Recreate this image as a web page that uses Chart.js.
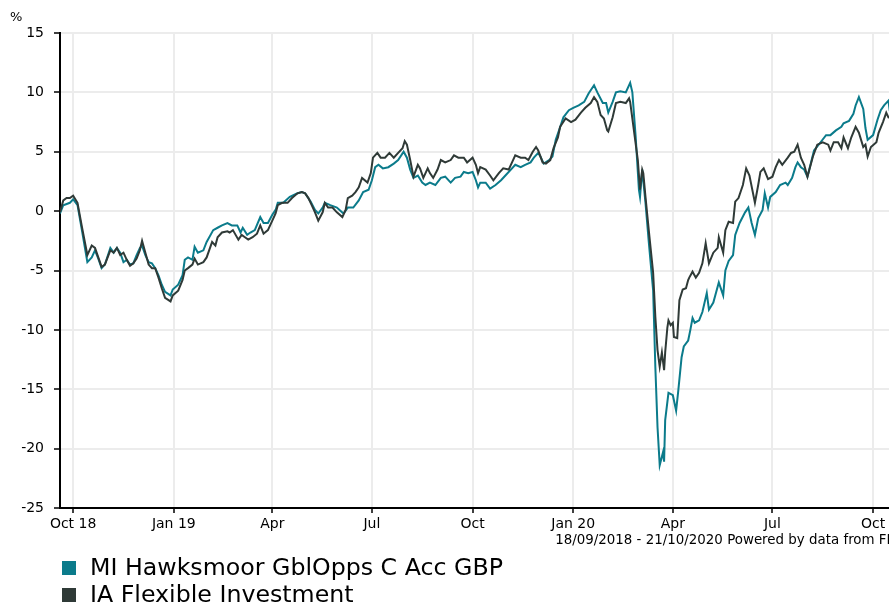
<!DOCTYPE html>
<html>
<head>
<meta charset="utf-8">
<script src="https://cdn.jsdelivr.net/npm/chart.js@4.4.0/dist/chart.umd.min.js"></script>
<style>
  html, body { margin: 0; padding: 0; background: #fff; overflow: hidden; }
  #wrap { width: 889px; height: 604px; overflow: hidden; }
</style>
</head>
<body>
<div id="wrap"><canvas id="perfChart" width="900" height="604"></canvas></div>
<script>
// days counted from 18/09/2018, values are cumulative % change
var tickDays = [13, 105, 195, 286, 378, 470, 561, 652, 744];
var tickLabels = ['Oct 18', 'Jan 19', 'Apr', 'Jul', 'Oct', 'Jan 20', 'Apr', 'Jul', 'Oct'];
var footerText = '18/09/2018 - 21/10/2020 Powered by data from FE';

var hawksmoorDays = [1, 4, 10, 13, 17, 21, 26, 30, 33, 36, 39, 42, 47, 50, 53, 56, 59, 62, 65, 68, 71, 74, 76, 79, 82, 85, 88, 91, 94, 97,
  102, 104, 109, 113, 115, 118, 122, 124, 127, 132, 135, 141, 145, 149, 154, 158, 163, 166, 168, 172, 175, 179, 184, 187, 191, 195, 198, 200, 205, 211,
  218, 222, 225, 230, 234, 237, 241, 243, 248, 254, 260, 264, 269, 274, 278, 283, 286, 289, 292, 296, 301, 306, 310, 315, 318, 321, 324, 328, 332, 335,
  339, 344, 349, 353, 358, 362, 367, 370, 374, 378, 381, 383, 385, 390, 394, 399, 404, 408, 413, 417, 422, 426, 431, 434, 438, 440, 443, 448, 451, 454,
  457, 461, 466, 470, 475, 480, 484, 489, 492, 497, 500, 502, 506, 509, 513, 518, 522, 524, 527, 530, 531, 533, 536, 539, 543, 545, 547, 549, 552, 553,
  554, 557, 561, 564, 566, 569, 571, 575, 577, 579, 581, 585, 588, 592, 594, 598, 603, 607, 609, 612, 616, 618, 622, 627, 630, 633, 636, 639, 643, 645,
  648, 650, 655, 659, 664, 666, 670, 673, 675, 678, 681, 684, 690, 696, 701, 705, 710, 715, 717, 722, 726, 728, 731, 735, 737, 739, 744, 748, 751, 754,
  758, 759, 762, 764];
var hawksmoorPct = [-0.2, 0.5, 0.7, 1.0, 0.5, -1.6, -4.3, -3.9, -3.3, -4.0, -4.8, -4.5, -3.1, -3.5, -3.1, -3.5, -4.3, -4.1, -4.5, -4.4, -3.7, -3.1, -2.9, -3.7, -4.3, -4.4, -4.8, -5.4, -6.2, -6.8,
  -7.1, -6.6, -6.2, -5.4, -4.1, -3.9, -4.1, -3.0, -3.5, -3.3, -2.6, -1.6, -1.4, -1.2, -1.0, -1.2, -1.2, -1.8, -1.4, -2.0, -1.8, -1.6, -0.5, -1.0, -1.0, -0.3, 0.1, 0.7, 0.7, 1.2,
  1.5, 1.6, 1.5, 0.8, 0.1, -0.2, 0.3, 0.7, 0.5, 0.3, -0.2, 0.3, 0.3, 0.9, 1.6, 1.8, 2.6, 3.7, 3.9, 3.6, 3.7, 4.0, 4.3, 5.0, 4.5, 3.5, 2.8, 3.0, 2.4, 2.2,
  2.4, 2.2, 2.8, 2.9, 2.4, 2.8, 2.9, 3.3, 3.2, 3.3, 2.6, 2.0, 2.4, 2.4, 1.9, 2.2, 2.6, 3.0, 3.5, 3.9, 3.7, 3.9, 4.1, 4.5, 4.9, 4.6, 4.0, 4.3, 4.6, 6.0,
  6.8, 7.9, 8.5, 8.7, 8.9, 9.2, 9.9, 10.6, 10.0, 9.1, 9.1, 8.3, 9.2, 10.0, 10.1, 10.0, 10.8, 10.0, 6.3, 1.8, 1.2, 3.5, 0.7, -2.6, -6.7, -13.1, -18.2, -21.4, -20.3, -21.1,
  -17.6, -15.3, -15.5, -16.8, -15.1, -12.3, -11.4, -10.9, -10.0, -9.0, -9.4, -9.2, -8.5, -6.9, -8.3, -7.7, -6.0, -7.1, -5.0, -4.2, -3.7, -2.0, -1.0, -0.1, 0.3, -1.0, -2.0, -0.6, 0.1, 1.5,
  0.3, 1.2, 1.6, 2.2, 2.4, 2.2, 2.8, 3.7, 4.1, 3.7, 3.5, 2.9, 5.1, 5.8, 6.4, 6.4, 6.8, 7.1, 7.4, 7.6, 8.2, 8.9, 9.6, 8.6, 7.0, 6.0, 6.4, 7.7, 8.5, 8.9,
  9.3, 8.6, 8.9, 8.9];

var flexibleDays = [1, 4, 7, 10, 13, 17, 21, 26, 30, 33, 36, 39, 42, 47, 50, 53, 56, 59, 62, 65, 68, 71, 74, 76, 79, 82, 85, 88, 91, 94,
  97, 102, 104, 109, 113, 115, 118, 122, 124, 127, 132, 135, 140, 143, 145, 149, 154, 156, 159, 164, 167, 170, 173, 177, 181, 184, 187, 191, 195, 198,
  200, 204, 209, 213, 218, 222, 225, 228, 231, 234, 237, 241, 243, 246, 250, 254, 259, 262, 264, 268, 271, 274, 277, 282, 285, 287, 291, 294, 298, 302,
  306, 310, 314, 316, 318, 321, 324, 328, 330, 333, 337, 339, 342, 346, 349, 353, 358, 361, 365, 370, 373, 378, 381, 383, 385, 390, 394, 397, 402, 406,
  411, 415, 417, 422, 426, 429, 433, 436, 438, 442, 445, 449, 452, 456, 458, 463, 468, 472, 477, 481, 486, 489, 492, 495, 498, 501, 502, 506, 509, 513,
  518, 521, 522, 525, 529, 531, 533, 534, 536, 539, 543, 545, 547, 549, 551, 553, 554, 556, 557, 559, 561, 562, 565, 567, 570, 573, 575, 576, 579, 582,
  585, 588, 591, 594, 598, 602, 603, 607, 609, 612, 616, 618, 621, 625, 628, 631, 636, 639, 641, 644, 648, 652, 655, 658, 661, 666, 669, 672, 675, 678,
  681, 684, 689, 693, 698, 703, 705, 708, 712, 715, 717, 721, 724, 728, 731, 735, 737, 739, 742, 747, 749, 753, 756, 758, 762, 764];
var flexiblePct = [-0.1, 0.9, 1.1, 1.1, 1.3, 0.7, -1.3, -3.7, -2.9, -3.1, -3.9, -4.7, -4.5, -3.3, -3.5, -3.1, -3.7, -3.5, -4.1, -4.6, -4.4, -4.0, -3.3, -2.5, -3.5, -4.5, -4.8, -4.8, -5.6, -6.5,
  -7.3, -7.6, -7.1, -6.7, -5.8, -5.0, -4.8, -4.5, -4.0, -4.5, -4.3, -3.9, -2.6, -2.9, -2.2, -1.8, -1.7, -1.8, -1.6, -2.4, -2.0, -2.2, -2.4, -2.2, -1.9, -1.2, -1.9, -1.6, -0.8, -0.2,
  0.5, 0.7, 0.7, 1.1, 1.5, 1.6, 1.5, 1.1, 0.5, -0.1, -0.8, -0.1, 0.7, 0.3, 0.3, -0.1, -0.5, 0.1, 1.1, 1.3, 1.6, 2.0, 2.8, 2.4, 3.2, 4.5, 4.9, 4.5, 4.5, 4.9,
  4.5, 4.9, 5.3, 5.9, 5.6, 4.3, 2.9, 3.9, 3.6, 2.8, 3.6, 3.2, 2.8, 3.5, 4.3, 4.1, 4.3, 4.7, 4.5, 4.5, 4.1, 4.5, 3.9, 3.2, 3.7, 3.5, 3.0, 2.6, 3.2, 3.6,
  3.5, 4.3, 4.7, 4.5, 4.5, 4.3, 5.0, 5.4, 5.1, 4.1, 4.0, 4.3, 5.3, 6.2, 7.1, 7.8, 7.5, 7.7, 8.3, 8.7, 9.1, 9.6, 9.2, 8.1, 7.8, 6.8, 6.7, 7.9, 9.1, 9.2,
  9.1, 9.5, 9.2, 7.1, 4.3, 1.8, 3.5, 3.2, 1.2, -1.6, -5.2, -8.9, -11.7, -13.1, -11.9, -13.4, -11.9, -9.8, -9.2, -9.6, -9.4, -10.6, -10.7, -7.5, -6.6, -6.5, -5.8, -5.6, -5.1, -5.6,
  -5.2, -4.4, -2.7, -4.4, -3.5, -3.1, -2.2, -3.5, -1.6, -0.9, -1.0, 0.8, 1.1, 2.2, 3.6, 3.0, 0.7, 2.2, 3.3, 3.6, 2.7, 2.9, 3.7, 4.3, 3.9, 4.5, 4.9, 5.0, 5.6, 4.5,
  3.9, 2.9, 4.6, 5.6, 5.8, 5.6, 5.1, 5.8, 5.8, 5.3, 6.2, 5.3, 6.2, 7.1, 6.6, 5.4, 5.6, 4.6, 5.4, 5.8, 6.6, 7.5, 8.3, 7.9, 7.8, 7.9];

var tealColor = '#0b7b8b';
var darkColor = '#2f3a37';

function toPoints(days, values) {
  return days.map(function(d, i) { return { x: d, y: values[i] }; });
}

// % label, footer and legend drawn on the canvas
var extraText = {
  id: 'extraText',
  afterDraw: function(chart) {
    var ctx = chart.ctx;
    ctx.save();
    ctx.fillStyle = '#000';
    ctx.textBaseline = 'middle';
    ctx.font = '13px "DejaVu Sans"';
    ctx.textAlign = 'left';
    ctx.fillText('%', 10, 18);
    ctx.font = '13.4px "DejaVu Sans"';
    ctx.textAlign = 'right';
    ctx.fillText(footerText, chart.chartArea.right, 541);
    ctx.textAlign = 'left';
    ctx.font = '23.7px "DejaVu Sans"';
    chart.data.datasets.forEach(function(ds, i) {
      var y = 568 + i * 27;
      ctx.fillStyle = ds.borderColor;
      ctx.fillRect(62, y - 7, 14, 14);
      ctx.fillStyle = '#000';
      ctx.fillText(ds.label, 90, y + 1);
    });
    ctx.restore();
  }
};

var ctx = document.getElementById('perfChart').getContext('2d');
var chart = new Chart(ctx, {
  type: 'line',
  data: {
    datasets: [{
      label: 'MI Hawksmoor GblOpps C Acc GBP',
      data: toPoints(hawksmoorDays, hawksmoorPct),
      borderColor: tealColor,
      backgroundColor: tealColor,
      borderWidth: 2,
      pointRadius: 0,
      fill: false,
      order: 1
    }, {
      label: 'IA Flexible Investment',
      data: toPoints(flexibleDays, flexiblePct),
      borderColor: darkColor,
      backgroundColor: darkColor,
      borderWidth: 2,
      pointRadius: 0,
      fill: false,
      order: 0
    }]
  },
  options: {
    responsive: false,
    animation: false,
    layout: { padding: { top: 33, right: 5, left: 0, bottom: 0 } },
    plugins: { legend: { display: false }, tooltip: { enabled: false } },
    scales: {
      x: {
        type: 'linear',
        min: 1,
        max: 764,
        afterBuildTicks: function(scale) {
          scale.ticks = tickDays.map(function(d) { return { value: d }; });
        },
        afterFit: function(scale) { scale.height = 96; },
        grid: { color: '#ececec', lineWidth: 2, tickColor: '#000', tickLength: 5, tickWidth: 1.5 },
        border: { color: '#000', width: 2 },
        ticks: {
          autoSkip: false,
          maxRotation: 0,
          padding: 3,
          color: '#000',
          font: { family: 'DejaVu Sans', size: 14 },
          callback: function(value, index) { return tickLabels[index]; }
        }
      },
      y: {
        min: -25,
        max: 15,
        afterFit: function(scale) { scale.width = 60; },
        grid: { color: '#ececec', lineWidth: 2, tickColor: '#000', tickLength: 6, tickWidth: 1.5 },
        border: { color: '#000', width: 2 },
        ticks: {
          stepSize: 5,
          padding: 10,
          color: '#000',
          font: { family: 'DejaVu Sans', size: 14 }
        }
      }
    }
  },
  plugins: [extraText]
});
</script>
</body>
</html>
